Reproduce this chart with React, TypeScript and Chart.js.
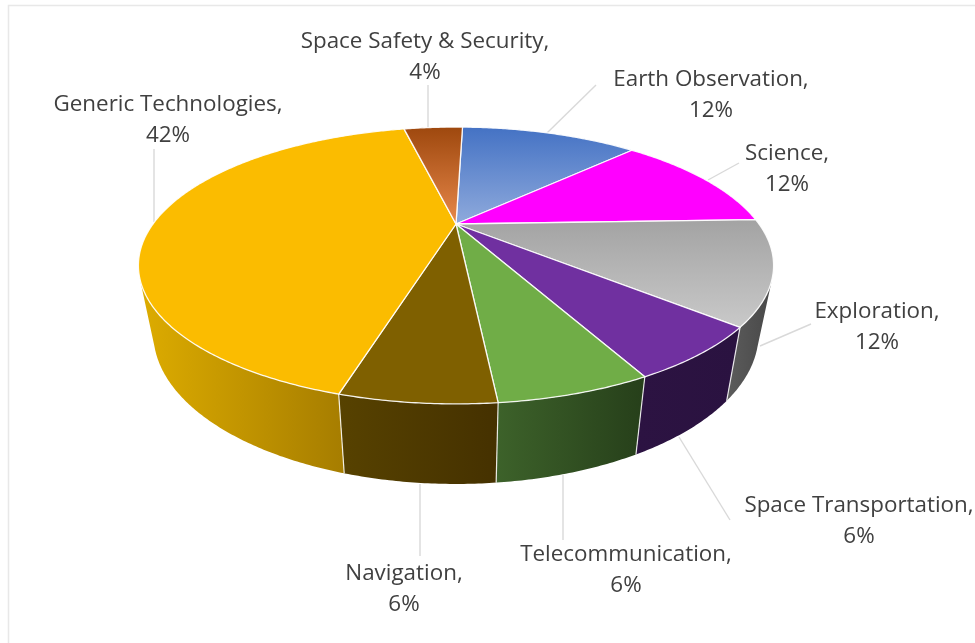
import { useEffect, useRef } from "react";
import { Chart, registerables } from "chart.js";

Chart.register(...registerables);

const categories = [
  "Earth Observation",
  "Science",
  "Exploration",
  "Space Transportation",
  "Telecommunication",
  "Navigation",
  "Generic Technologies",
  "Space Safety & Security",
];
const shares = [12, 12, 12, 6, 6, 6, 42, 4];

// Top face fills: a flat colour, or [upper, lower] for a vertical gradient.
const topColors: (string | [string, string])[] = [
  ["#4472C4", "#8FAADC"],
  "#FF00FF",
  ["#A3A3A3", "#C9C9C9"],
  "#7030A0",
  "#70AD47",
  "#7F6000",
  "#FBBC00",
  ["#9E480E", "#E8884A"],
];
// Rim wall fills, running left to right.
const wallColors: [string, string][] = [
  ["#223B6B", "#223B6B"],
  ["#800080", "#800080"],
  ["#5C5C5C", "#484848"],
  ["#2C1342", "#2A1240"],
  ["#3D622A", "#263F1A"],
  ["#574200", "#453100"],
  ["#DDAC00", "#A67D00"],
  ["#4F2407", "#4F2407"],
];

// Text block centres and the two ends of each leader line.
const labelSpots = [
  { x: 711, y: 96, leader: [[596, 85], [547, 133]] },
  { x: 787, y: 170, leader: [[739, 163], [708, 180]] },
  { x: 877, y: 328, leader: [[811, 324], [760, 346]] },
  { x: 859, y: 522, leader: [[730, 520], [679, 437]] },
  { x: 626, y: 571, leader: [[563, 540], [563, 475]] },
  { x: 404, y: 590, leader: [[420, 556], [420, 484]] },
  { x: 168, y: 121, leader: [[154, 149], [154, 222]] },
  { x: 425, y: 58, leader: [[428, 85], [428, 128]] },
];

const FONT = '22.4px "Open Sans", "Noto Sans", sans-serif';
const TILT = 0.2996;
const X_SPAN = 303 / 224;
const Y_SPAN = 126 / 224;
const BASE_X = 0.953;
const BASE_Y = 1.087;
const BASE_DROP = 64.4 / 224;

type Pt = [number, number];

function rimPoint(cx: number, cy: number, r: number, theta: number): Pt {
  const u = Math.sin(theta);
  const v = -Math.cos(theta);
  const w = 1 - TILT * v;
  return [cx + (X_SPAN * r * u) / w, cy + (Y_SPAN * r * v) / w];
}

function basePoint(cx: number, cy: number, r: number, p: Pt): Pt {
  return [cx + BASE_X * (p[0] - cx), cy + BASE_DROP * r + BASE_Y * (p[1] - cy)];
}

// A wall strip faces the viewer when the rim's travel and the drop to the base
// turn the same way as on the front of the disc.
function facesViewer(cx: number, cy: number, r: number, theta: number): boolean {
  const a = rimPoint(cx, cy, r, theta - 0.005);
  const b = rimPoint(cx, cy, r, theta + 0.005);
  const m = rimPoint(cx, cy, r, theta);
  const d = basePoint(cx, cy, r, m);
  const cross = (b[0] - a[0]) * (d[1] - m[1]) - (b[1] - a[1]) * (d[0] - m[0]);
  return cross < 0;
}

const pie3dPlugin = {
  id: "pie3d",
  beforeDraw(chart: Chart) {
    const { ctx, width, height } = chart;
    ctx.save();
    ctx.fillStyle = "#FFFFFF";
    ctx.fillRect(0, 0, width, height);
    ctx.strokeStyle = "#E8E8E8";
    ctx.lineWidth = 1.5;
    ctx.beginPath();
    ctx.moveTo(8.5, height);
    ctx.lineTo(8.5, 5.5);
    ctx.lineTo(width, 5.5);
    ctx.stroke();
    ctx.restore();
  },
  beforeDatasetsDraw(chart: Chart) {
    const { ctx } = chart;
    const arcs = chart.getDatasetMeta(0).data as any[];
    const cx = arcs[0].x;
    const cy = arcs[0].y;
    const r = arcs[0].outerRadius;
    const thetaOf = (a: number) => a + Math.PI / 2;
    const STEP = Math.PI / 360;

    ctx.save();
    ctx.lineJoin = "round";

    // Leader lines sit under the disc.
    ctx.strokeStyle = "#D9D9D9";
    ctx.lineWidth = 1.4;
    labelSpots.forEach(({ leader }) => {
      ctx.beginPath();
      ctx.moveTo(leader[0][0], leader[0][1]);
      ctx.lineTo(leader[1][0], leader[1][1]);
      ctx.stroke();
    });

    // Rim walls.
    arcs.forEach((arc, i) => {
      const start = thetaOf(arc.startAngle);
      const stop = thetaOf(arc.endAngle);
      const sweep: number[] = [];
      for (let t = start; t < stop; t += STEP) if (facesViewer(cx, cy, r, t)) sweep.push(t);
      if (facesViewer(cx, cy, r, stop)) sweep.push(stop);
      if (sweep.length < 2) return;
      const upper = sweep.map((t) => rimPoint(cx, cy, r, t));
      const lower = upper.map((p) => basePoint(cx, cy, r, p));
      const xs = upper.concat(lower).map((p) => p[0]);
      const grad = ctx.createLinearGradient(Math.min(...xs), 0, Math.max(...xs), 0);
      grad.addColorStop(0, wallColors[i][0]);
      grad.addColorStop(1, wallColors[i][1]);
      ctx.beginPath();
      upper.forEach((p, k) => (k ? ctx.lineTo(p[0], p[1]) : ctx.moveTo(p[0], p[1])));
      lower.reverse().forEach((p) => ctx.lineTo(p[0], p[1]));
      ctx.closePath();
      ctx.fillStyle = grad;
      ctx.fill();
    });

    // Seams between neighbouring walls.
    ctx.strokeStyle = "rgba(255,255,255,0.85)";
    ctx.lineWidth = 1.2;
    arcs.forEach((arc) => {
      const t = thetaOf(arc.startAngle);
      if (!facesViewer(cx, cy, r, t)) return;
      const a = rimPoint(cx, cy, r, t);
      const b = basePoint(cx, cy, r, a);
      ctx.beginPath();
      ctx.moveTo(a[0], a[1]);
      ctx.lineTo(b[0], b[1]);
      ctx.stroke();
    });

    // Top faces.
    arcs.forEach((arc, i) => {
      const start = thetaOf(arc.startAngle);
      const stop = thetaOf(arc.endAngle);
      const rim: Pt[] = [];
      for (let t = start; t < stop; t += STEP) rim.push(rimPoint(cx, cy, r, t));
      rim.push(rimPoint(cx, cy, r, stop));
      ctx.beginPath();
      ctx.moveTo(cx, cy);
      rim.forEach((p) => ctx.lineTo(p[0], p[1]));
      ctx.closePath();
      const c = topColors[i];
      if (typeof c === "string") {
        ctx.fillStyle = c;
      } else {
        const ys = rim.map((p) => p[1]).concat(cy);
        const grad = ctx.createLinearGradient(0, Math.min(...ys), 0, Math.max(...ys));
        grad.addColorStop(0, c[0]);
        grad.addColorStop(1, c[1]);
        ctx.fillStyle = grad;
      }
      ctx.fill();
      ctx.strokeStyle = "rgba(255,255,255,0.9)";
      ctx.lineWidth = 1.3;
      ctx.stroke();
    });

    // Two-line data labels, with the percentage read from the data.
    ctx.fillStyle = "#404040";
    ctx.font = FONT;
    ctx.textAlign = "center";
    ctx.textBaseline = "middle";
    categories.forEach((name, i) => {
      const spot = labelSpots[i];
      ctx.fillText(`${name},`, spot.x, spot.y - 16);
      ctx.fillText(`${shares[i]}%`, spot.x, spot.y + 15);
    });

    ctx.restore();
    return false;
  },
};

export default function App() {
  const canvasRef = useRef<HTMLCanvasElement | null>(null);

  useEffect(() => {
    document.body.style.margin = "0";
    const chart = new Chart(canvasRef.current!, {
      type: "pie",
      data: {
        labels: categories,
        datasets: [{ data: shares, borderWidth: 0, hoverOffset: 0 }],
      },
      options: {
        responsive: false,
        animation: false,
        rotation: 1.6,
        layout: { padding: { left: 0, top: 0, right: 63, bottom: 195 } },
        plugins: { legend: { display: false }, tooltip: { enabled: false } },
        events: [],
      },
      plugins: [pie3dPlugin],
    } as any);
    return () => chart.destroy();
  }, []);

  return <canvas ref={canvasRef} width={975} height={643} style={{ display: "block" }} />;
}
